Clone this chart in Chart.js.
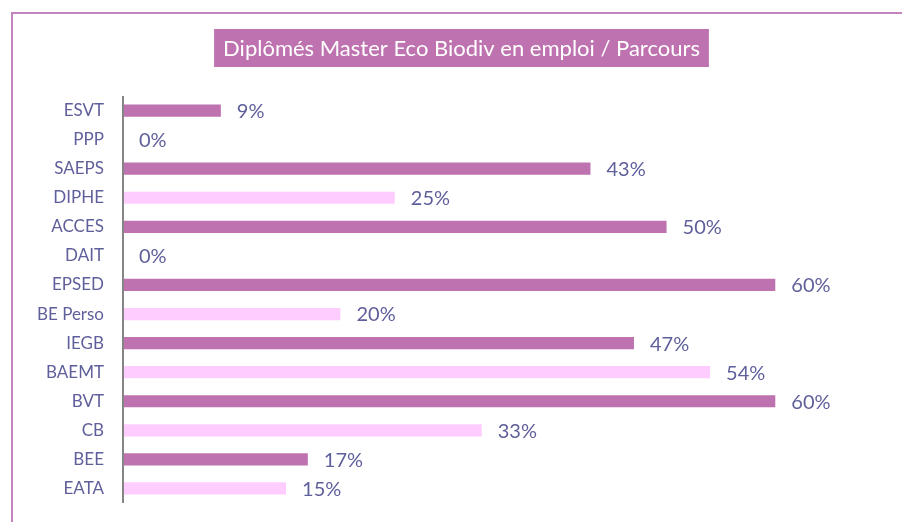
<!DOCTYPE html>
<html>
<head>
<meta charset="utf-8">
<script src="https://cdn.jsdelivr.net/npm/chart.js@4"></script>
<style>
html,body{margin:0;padding:0;background:#fff;}
#wrap{position:relative;width:902px;height:522px;overflow:hidden;}
#frame{position:absolute;left:11px;top:12px;width:1000px;height:1000px;border:2px solid #C383BD;box-sizing:border-box;}
canvas{position:absolute;left:0;top:0;}
</style>
</head>
<body>
<div id="wrap"><div id="frame"></div><canvas id="c" width="902" height="522"></canvas></div>
<script>
const chartTitle = "Diplômés Master Eco Biodiv en emploi / Parcours";
const categories = ["ESVT","PPP","SAEPS","DIPHE","ACCES","DAIT","EPSED","BE Perso","IEGB","BAEMT","BVT","CB","BEE","EATA"];
const values = [9,0,43,25,50,0,60,20,47,54,60,33,17,15];
const shades = ["dark","dark","dark","light","dark","light","dark","light","dark","light","dark","light","dark","light"];
const palette = {dark:"#BE72AF", light:"#FFCCFF"};
const textColor = "#5F5F9B";
const FONT = "Lato, 'Open Sans', sans-serif";

const titlePlugin = {
  id:'boxTitle',
  afterDraw(chart){
    const ctx = chart.ctx;
    ctx.save();
    ctx.font = "22px " + FONT;
    const w = ctx.measureText(chartTitle).width;
    const cx = 461.5, y0 = 29, h = 38, padX = 9;
    const bw = w + 2*padX;
    ctx.fillStyle = "#BE72AF";
    ctx.fillRect(cx - bw/2, y0, bw, h);
    ctx.fillStyle = "#FFFFFF";
    ctx.textAlign = "center";
    ctx.textBaseline = "middle";
    ctx.fillText(chartTitle, cx, y0 + h/2 + 1);
    ctx.restore();
  }
};
const valuePlugin = {
  id:'valueLabels',
  afterDatasetsDraw(chart){
    const ctx = chart.ctx;
    const meta = chart.getDatasetMeta(0);
    ctx.save();
    ctx.font = "20px " + FONT;
    ctx.fillStyle = textColor;
    ctx.textAlign = "left";
    ctx.textBaseline = "middle";
    meta.data.forEach((bar,i)=>{
      ctx.fillText(values[i] + "%", bar.x + 16, bar.y + 1);
    });
    ctx.restore();
  }
};
const axisLinePlugin = {
  id:'axisLine',
  afterDatasetsDraw(chart){
    const a = chart.chartArea, ctx = chart.ctx;
    ctx.save();
    ctx.strokeStyle = "#858585";
    ctx.lineWidth = 2;
    ctx.beginPath();
    ctx.moveTo(a.left, a.top);
    ctx.lineTo(a.left, a.bottom);
    ctx.stroke();
    ctx.restore();
  }
};

new Chart(document.getElementById('c'), {
  type:'bar',
  data:{
    labels: categories,
    datasets:[{
      data: values,
      backgroundColor: shades.map(s=>palette[s]),
      barPercentage: 0.42,
      categoryPercentage: 1.0,
      borderWidth: 0
    }]
  },
  options:{
    indexAxis:'y',
    responsive:false,
    animation:false,
    devicePixelRatio:1,
    layout:{padding:{left:0,right:18,top:96,bottom:19}},
    plugins:{legend:{display:false},tooltip:{enabled:false},title:{display:false}},
    scales:{
      x:{display:false,min:0,max:70},
      y:{
        afterFit(s){ s.width = 123; s.paddingTop = 0; s.paddingBottom = 0; },
        grid:{display:false,drawTicks:false},
        border:{display:false},
        ticks:{color:textColor,font:{family:FONT,size:17},padding:19}
      }
    }
  },
  plugins:[titlePlugin,valuePlugin,axisLinePlugin]
});
</script>
</body>
</html>
